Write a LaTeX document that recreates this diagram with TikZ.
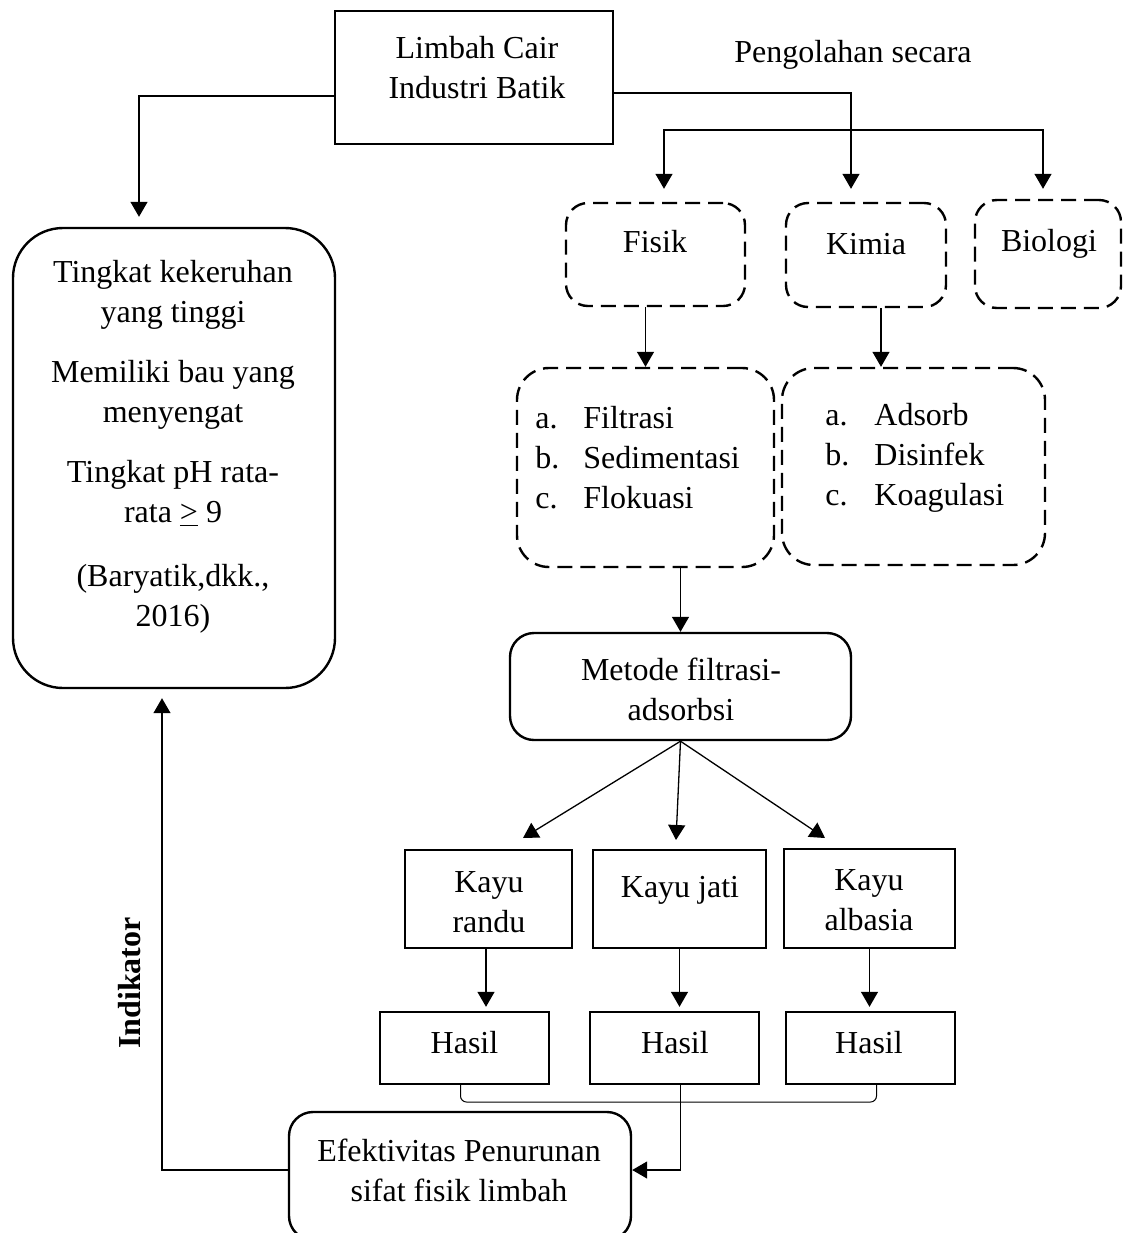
\documentclass[tikz,border=0pt]{standalone}
\usepackage{fontspec}
\setmainfont{Liberation Serif}
\usetikzlibrary{arrows.meta,calc}
\begin{document}
\begin{tikzpicture}[x=0.5pt,y=-0.5pt,
  every node/.style={font=\fontsize{16}{20}\selectfont, inner sep=0pt},
  sbox/.style={draw, line width=1.2pt},
  rbox/.style={draw, line width=1.2pt, rounded corners=12pt},
  dbox/.style={draw, line width=1.2pt, dash pattern=on 7.5pt off 4pt, rounded corners=11pt},
  arr/.style={line width=0.65pt, -{Triangle[length=7.5pt,width=8.5pt]}},
  biarr/.style={line width=0.65pt, {Triangle[length=7.5pt,width=8.5pt]}-{Triangle[length=7.5pt,width=8.5pt]}},
  thinline/.style={line width=0.5pt, rounded corners=3pt}
]
\useasboundingbox (0,0) rectangle (1124,1233);
\clip (0,0) rectangle (1124,1233);

% top box
\node[sbox, minimum width=139pt, minimum height=66.5pt] (limbah) at (474,77.5) {};
\node[align=center] (limbahtxt) at (477,67.5) {Limbah Cair\\Industri Batik};
\node (pengolahan) at (853,55) {Pengolahan secara};

% dashed row
\node[dbox, minimum width=89.5pt, minimum height=51.5pt] (fisik) at (655.5,254.5) {};
\node (fisiktxt) at (655,242) {Fisik};
\node[dbox, minimum width=80pt, minimum height=52pt] (kimia) at (866,255) {};
\node (kimiatxt) at (866,244) {Kimia};
\node[dbox, minimum width=73pt, minimum height=54pt] (biologi) at (1048,254) {};
\node (biologitxt) at (1049,244) {Biologi};

% lists
\node[dbox, rounded corners=16pt, minimum width=128.5pt, minimum height=99.5pt] (list1) at (645.5,467.5) {};
\node[anchor=west, align=left] (list1txt) at (535,457.5)
  {\makebox[24pt][l]{a.}Filtrasi\\\makebox[24pt][l]{b.}Sedimentasi\\\makebox[24pt][l]{c.}Flokuasi};
\node[dbox, rounded corners=16pt, minimum width=131.5pt, minimum height=98.5pt] (list2) at (913.5,466.5) {};
\node[anchor=west, align=left] (list2txt) at (825,457.5)
  {\makebox[24.5pt][l]{a.}Adsorb\\\makebox[24.5pt][l]{b.}Disinfek\\\makebox[24.5pt][l]{c.}Koagulasi};

% metode
\node[rbox, minimum width=170.5pt, minimum height=53.5pt] (metode) at (680.5,686.5) {};
\node[align=center] (metodetxt) at (681,689) {Metode filtrasi-\\adsorbsi};

% kayu
\node[sbox, minimum width=83.5pt, minimum height=49pt] (randu) at (488.5,899) {};
\node[align=center] (randutxt) at (489,902) {Kayu\\randu};
\node[sbox, minimum width=86.5pt, minimum height=49pt] (jati) at (679.5,899) {};
\node (jatitxt) at (680,890) {Kayu jati};
\node[sbox, minimum width=85.5pt, minimum height=49.5pt] (albasia) at (869.5,898.5) {};
\node[align=center] (albasiatxt) at (869,900) {Kayu\\albasia};

% hasil
\node[sbox, minimum width=84.5pt, minimum height=36pt] (hasil1) at (464.5,1048) {};
\node (hasil1txt) at (464.5,1043) {Hasil};
\node[sbox, minimum width=84.5pt, minimum height=36pt] (hasil2) at (674.5,1048) {};
\node (hasil2txt) at (675,1043) {Hasil};
\node[sbox, minimum width=84.5pt, minimum height=36pt] (hasil3) at (870.5,1048) {};
\node (hasil3txt) at (869,1043) {Hasil};

% left box
\node[draw, line width=1.2pt, rounded corners=25pt, minimum width=161pt, minimum height=230pt] (left) at (174,458) {};
\node[align=center] (lefttxt) at (173,446.5)
  {Tingkat kekeruhan\\yang tinggi\\[10pt]Memiliki bau yang\\menyengat\\[10pt]Tingkat pH rata-\\rata \underline{>} 9\\[12pt](Baryatik,dkk.,\\2016)};

% efektivitas
\node[rbox, minimum width=171pt, minimum height=64pt] (efek) at (460,1176) {};
\node[align=center] (efektxt) at (459,1170) {Efektivitas Penurunan\\sifat fisik limbah};

\node[rotate=90, font=\fontsize{16}{20}\selectfont\bfseries] (indikator) at (130,983) {Indikator};

% connectors
\coordinate (brk1) at (850,130);
\coordinate (brk2) at (670,1102);
\draw[arr, shorten >=5pt] ([yshift=-9.25pt]limbah.west) -| ([xshift=-17.5pt]left.north);
\draw[arr, shorten >=6.5pt] ([yshift=-7.75pt]limbah.east) -| ([xshift=-7.5pt]kimia.north);
\draw[biarr, shorten <=5pt, shorten >=6.5pt] ([xshift=-2.5pt]biologi.north) |- (brk1) -| ([xshift=4.25pt]fisik.north);
\draw[arr] (fisik.south -| list1.north) -- (list1.north);
\draw[arr] ([xshift=7.5pt]kimia.south) -- ([xshift=7.5pt]kimia.south |- list2.north);
\draw[arr] (list1.south -| metode.north) -- (metode.north);
\coordinate (tipa) at (523,838);
\coordinate (tipb) at (676,840);
\coordinate (tipc) at (825,838);
\draw[arr] (metode.south) -- (tipa);
\draw[arr] (metode.south) -- (tipb);
\draw[arr] (metode.south) -- (tipc);
\draw[arr, shorten >=2pt] ([xshift=-1.25pt]randu.south) -- ([xshift=-1.25pt]randu.south |- hasil1.north);
\draw[arr, shorten >=2pt] (jati.south) -- (jati.south |- hasil2.north);
\draw[arr, shorten >=2pt] (albasia.south) -- (albasia.south |- hasil3.north);
\draw[thinline] ([xshift=-2pt]hasil1.south) |- (brk2) -| ([xshift=3pt]hasil3.south);
\draw[arr] ([xshift=3pt]hasil2.south) |- ([yshift=3pt]efek.east);
\draw[arr, shorten >=4.5pt] ([yshift=3pt]efek.west) -| ([xshift=-6pt]left.south);
\end{tikzpicture}
\end{document}
